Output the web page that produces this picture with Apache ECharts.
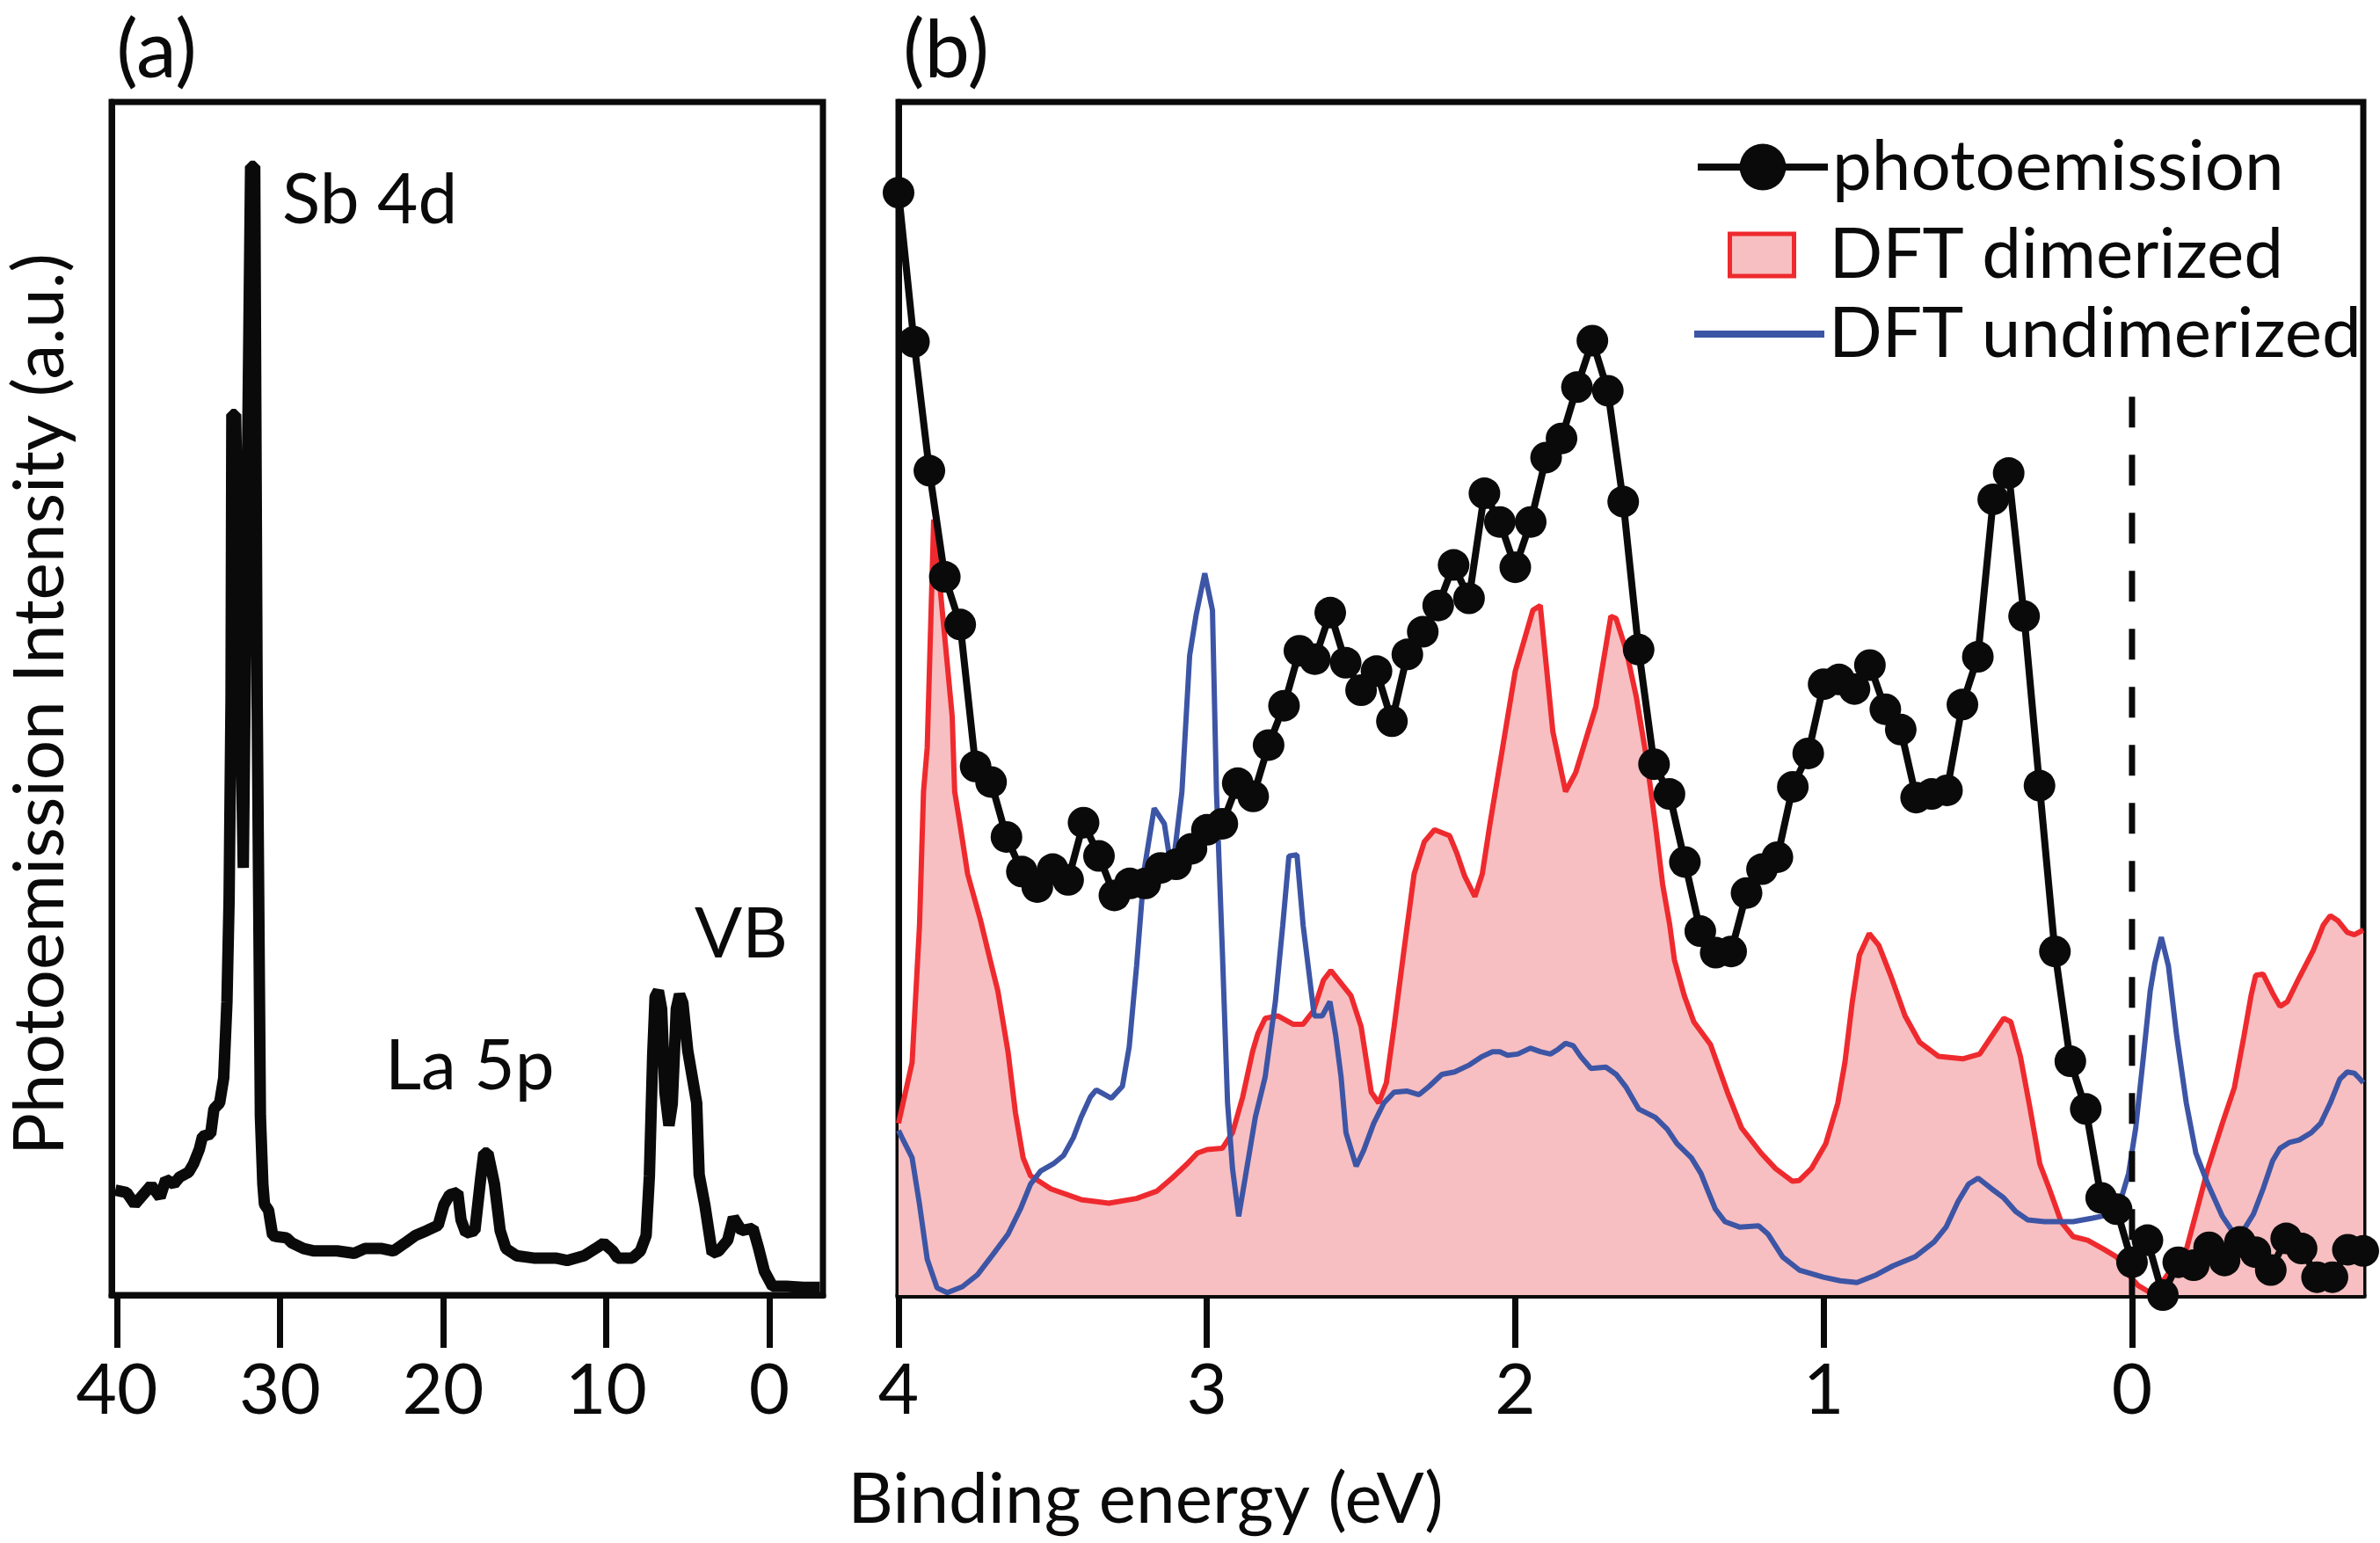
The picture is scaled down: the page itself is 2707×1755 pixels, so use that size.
<!DOCTYPE html>
<html>
<head>
<meta charset="utf-8">
<script src="https://cdn.jsdelivr.net/npm/echarts@6/dist/echarts.min.js"></script>
<style>
  html, body { margin: 0; padding: 0; background: #fff; }
  #chart { width: 2707px; height: 1755px; }
</style>
</head>
<body>
<div id="chart"></div>
<script>
// panel (a): wide survey spectrum
const surveyE = [40.1, 39.4, 38.9, 38.4, 37.9, 37.35, 37.0, 36.5, 36.15, 35.6,
  35.3, 34.95, 34.75, 34.25, 34.05, 33.7, 33.45, 33.25, 33.12, 33.0,
  32.95, 32.72, 32.25, 31.8, 31.55, 31.4, 31.2, 31.05, 30.95, 30.7,
  30.45, 30.2, 29.6, 29.25, 28.55, 27.9, 26.5, 25.45, 24.8, 23.75,
  23.05, 22.35, 21.7, 21.0, 20.3, 19.95, 19.6, 19.1, 18.9, 18.6,
  18.05, 17.7, 17.5, 17.25, 16.85, 16.5, 16.15, 15.5, 14.45, 13.1,
  12.4, 11.35, 10.65, 10.15, 9.6, 9.3, 8.4, 7.9, 7.55, 7.35,
  7.15, 7.0, 6.8, 6.6, 6.4, 6.15, 5.95, 5.7, 5.5, 5.3,
  5.0, 4.45, 4.3, 3.95, 3.5, 3.1, 2.55, 2.2, 1.7, 1.0,
  0.65, 0.3, -0.2, -1.05, -2.1, -3.1];
const surveyI = [8.8, 8.6, 7.6, 8.4, 9.2, 8.2, 9.7, 9.3, 9.9, 10.3,
  11.0, 12.2, 13.3, 13.5, 15.6, 16.1, 18.2, 24.6, 33.1, 50,
  73.8, 73.8, 35.8, 94.6, 94.6, 50, 15, 9.3, 7.6, 7.1,
  5.0, 4.9, 4.8, 4.35, 3.9, 3.7, 3.7, 3.5, 3.9, 3.9,
  3.7, 4.35, 5.0, 5.4, 5.85, 7.55, 8.4, 8.6, 6.3, 5.2,
  5.4, 9.7, 11.9, 11.9, 9.3, 5.4, 3.9, 3.3, 3.1, 3.1,
  2.9, 3.3, 3.9, 4.35, 3.7, 3.1, 3.1, 3.7, 5.0, 10,
  20, 25.0, 25.5, 24, 17, 14.2, 16, 24, 25.2, 24.5,
  20.5, 16.1, 10.1, 7.55, 3.5, 3.7, 4.6, 6.5, 5.4, 5.6,
  3.9, 2.0, 0.73, 0.73, 0.65, 0.65];

// panel (b): photoemission points
const peE = [4.00, 3.95, 3.90, 3.85, 3.80, 3.75, 3.70, 3.65, 3.60, 3.55,
  3.50, 3.45, 3.40, 3.35, 3.30, 3.25, 3.20, 3.15, 3.10, 3.05,
  3.00, 2.95, 2.90, 2.85, 2.80, 2.75, 2.70, 2.65, 2.60, 2.55,
  2.50, 2.45, 2.40, 2.35, 2.30, 2.25, 2.20, 2.15, 2.10, 2.05,
  2.00, 1.95, 1.90, 1.85, 1.80, 1.75, 1.70, 1.65, 1.60, 1.55,
  1.50, 1.45, 1.40, 1.35, 1.30, 1.25, 1.20, 1.15, 1.10, 1.05,
  1.00, 0.95, 0.90, 0.85, 0.80, 0.75, 0.70, 0.65, 0.60, 0.55,
  0.50, 0.45, 0.40, 0.35, 0.30, 0.25, 0.20, 0.15, 0.10, 0.05,
  0.00, -0.05, -0.10, -0.15, -0.20, -0.25, -0.30, -0.35, -0.40, -0.45,
  -0.50, -0.55, -0.60, -0.65, -0.70, -0.75];
const peI = [92.4, 79.9, 69.1, 60.2, 56.2, 44.3, 43.0, 38.4, 35.5, 34.2,
  35.7, 34.8, 39.6, 36.8, 33.5, 34.5, 34.5, 35.8, 36.1, 37.4,
  39.0, 39.5, 42.9, 41.8, 46.1, 49.4, 54.0, 53.3, 57.2, 53.0,
  50.7, 52.3, 48.1, 53.7, 55.6, 57.8, 61.2, 58.4, 67.2, 64.8,
  61.0, 64.8, 70.2, 71.8, 76.1, 80.0, 75.8, 66.5, 54.1, 44.5,
  42.0, 36.3, 30.5, 28.7, 28.8, 33.7, 35.7, 36.7, 42.6, 45.4,
  51.2, 51.6, 50.8, 52.8, 49.1, 47.4, 41.7, 42.0, 42.3, 49.5,
  53.5, 66.7, 68.9, 56.9, 42.7, 28.8, 19.6, 15.6, 8.15, 7.2,
  2.75, 4.6, 0.0, 2.75, 2.5, 4.0, 2.9, 4.45, 3.6, 2.1,
  4.75, 3.9, 1.5, 1.5, 3.8, 3.7];

// panel (b): DFT dimerized
const dimE = [4.0, 3.956, 3.932, 3.919, 3.907, 3.886, 3.826, 3.818, 3.801, 3.776,
  3.735, 3.703, 3.678, 3.645, 3.621, 3.596, 3.572, 3.506, 3.408, 3.318,
  3.228, 3.163, 3.113, 3.064, 3.031, 2.999, 2.950, 2.917, 2.884, 2.852,
  2.835, 2.811, 2.770, 2.721, 2.688, 2.655, 2.622, 2.598, 2.533, 2.500,
  2.467, 2.443, 2.418, 2.393, 2.361, 2.328, 2.295, 2.262, 2.213, 2.189,
  2.164, 2.131, 2.107, 2.082, 2.041, 2.0, 1.943, 1.919, 1.878, 1.837,
  1.804, 1.739, 1.690, 1.673, 1.640, 1.608, 1.575, 1.546, 1.522, 1.499,
  1.484, 1.452, 1.421, 1.367, 1.312, 1.266, 1.203, 1.156, 1.102, 1.079,
  1.040, 0.993, 0.954, 0.931, 0.907, 0.884, 0.852, 0.821, 0.783, 0.736,
  0.689, 0.627, 0.549, 0.494, 0.455, 0.416, 0.393, 0.362, 0.331, 0.299,
  0.268, 0.230, 0.191, 0.144, 0.089, 0.050, 0.011, -0.020, -0.059, -0.090,
  -0.137, -0.176, -0.207, -0.246, -0.293, -0.332, -0.363, -0.386, -0.401, -0.425,
  -0.456, -0.480, -0.504, -0.542, -0.588, -0.620, -0.643, -0.667, -0.698, -0.721,
  -0.75];
const dimI = [14.4, 19.5, 31.0, 42.2, 45.9, 65.0, 48.5, 42.2, 39.5, 35.3,
  31.5, 28.1, 25.5, 20.4, 15.3, 11.5, 10.0, 8.9, 8.0, 7.7,
  8.1, 8.7, 9.8, 11.0, 11.9, 12.2, 12.3, 13.6, 16.6, 20.4,
  21.9, 23.2, 23.4, 22.7, 22.7, 23.8, 26.4, 27.2, 25.1, 22.5,
  17.0, 16.1, 17.8, 22.5, 28.9, 35.3, 38.0, 39.0, 38.5, 37.0,
  35.1, 33.4, 35.3, 39.5, 45.9, 52.3, 57.4, 57.8, 47.2, 42.2,
  43.8, 49.3, 56.9, 56.7, 54.0, 50.2, 45.1, 39.5, 34.4, 31.0,
  28.1, 25.1, 22.9, 21.0, 17.0, 14.0, 11.9, 10.6, 9.55, 9.6,
  10.6, 12.7, 16.1, 19.5, 24.6, 28.5, 30.3, 29.3, 26.8, 23.4,
  21.2, 20.0, 19.8, 20.2, 21.7, 23.2, 22.9, 20.0, 15.7, 11.0,
  8.9, 6.15, 4.9, 4.6, 3.8, 3.2, 1.7, 0.8, 0.2, 0.8,
  2.5, 3.8, 6.8, 10.6, 14.4, 17.4, 21.7, 25.1, 26.8, 26.9,
  25.3, 24.2, 24.6, 26.6, 28.9, 31.0, 31.8, 31.4, 30.4, 30.2,
  30.6];

// panel (b): DFT undimerized
const undE = [4.0, 3.989, 3.956, 3.932, 3.907, 3.875, 3.842, 3.793, 3.744, 3.694,
  3.645, 3.605, 3.572, 3.539, 3.498, 3.465, 3.433, 3.408, 3.378, 3.359,
  3.310, 3.274, 3.252, 3.228, 3.203, 3.171, 3.138, 3.113, 3.081, 3.056,
  3.035, 3.007, 2.982, 2.969, 2.950, 2.933, 2.917, 2.897, 2.876, 2.843,
  2.811, 2.778, 2.754, 2.734, 2.708, 2.688, 2.668, 2.652, 2.626, 2.601,
  2.582, 2.565, 2.549, 2.516, 2.492, 2.459, 2.426, 2.393, 2.352, 2.312,
  2.279, 2.238, 2.197, 2.148, 2.107, 2.074, 2.050, 2.025, 1.992, 1.951,
  1.919, 1.886, 1.861, 1.837, 1.812, 1.788, 1.755, 1.706, 1.673, 1.640,
  1.600, 1.546, 1.507, 1.476, 1.429, 1.398, 1.375, 1.351, 1.320, 1.273,
  1.211, 1.180, 1.133, 1.079, 1.001, 0.946, 0.892, 0.829, 0.775, 0.704,
  0.642, 0.603, 0.564, 0.530, 0.499, 0.455, 0.416, 0.377, 0.338, 0.284,
  0.191, 0.128, 0.082, 0.035, 0.011, -0.012, -0.035, -0.059, -0.074, -0.095,
  -0.118, -0.145, -0.176, -0.207, -0.246, -0.293, -0.332, -0.363, -0.394, -0.425,
  -0.456, -0.480, -0.511, -0.542, -0.581, -0.612, -0.643, -0.674, -0.698, -0.721,
  -0.736, -0.75];
const undI = [13.8, 13.2, 11.5, 7.6, 3.0, 0.6, 0.2, 0.7, 1.7, 3.4,
  5.1, 7.2, 9.3, 10.4, 11.0, 11.7, 13.2, 14.9, 16.6, 17.2,
  16.5, 17.5, 20.8, 27.6, 35.7, 40.8, 39.5, 35.3, 42.2, 53.6,
  57.0, 60.5, 57.4, 42.2, 28.9, 16.1, 10.6, 6.6, 9.8, 14.9,
  18.3, 24.6, 31.0, 36.8, 36.9, 31.0, 26.8, 23.4, 23.4, 24.6,
  21.7, 18.3, 13.6, 10.8, 12.1, 14.4, 16.1, 17.0, 17.1, 16.8,
  17.5, 18.5, 18.7, 19.3, 20.0, 20.4, 20.4, 20.1, 20.2, 20.7,
  20.4, 20.2, 20.6, 21.1, 20.9, 20.0, 19.0, 19.1, 18.5, 17.4,
  15.6, 14.9, 13.9, 12.7, 11.5, 10.2, 8.7, 7.2, 6.15, 5.7,
  5.8, 5.1, 3.2, 2.1, 1.5, 1.2, 1.05, 1.7, 2.45, 3.2,
  4.45, 5.7, 7.85, 9.3, 9.8, 8.9, 8.15, 7.0, 6.3, 6.15,
  6.15, 6.45, 6.7, 8.1, 10.2, 14.0, 19.5, 25.5, 27.8, 30.0,
  27.6, 21.7, 16.1, 11.9, 9.3, 6.6, 5.1, 5.5, 6.8, 8.9,
  11.25, 12.3, 12.8, 13.0, 13.6, 14.4, 16.1, 18.1, 18.7, 18.6,
  18.2, 17.8];

const ticksA = [0, 10, 20, 30, 40];
const ticksB = [0, 1, 2, 3, 4];
const fermiLine = [[0, 75.3], [0, 0]];

const FONT = 'Lato';
const BLACK = '#0a0a0a';
const RED = '#ee2a2e';
const PINK = '#f7bfc1';
const BLUE = '#3d55a5';
const FS = 80;

function zip(xs, ys) {
  return xs.map((x, i) => [x, ys[i]]);
}

function xAxisFor(grid, min, max, ticks) {
  return {
    gridIndex: grid, type: 'value', inverse: true, min: min, max: max,
    splitLine: {show: false},
    axisLine: {show: true, onZero: false, lineStyle: {color: BLACK, width: 7}},
    axisTick: {show: true, customValues: ticks, length: 60, lineStyle: {color: BLACK, width: 7}},
    axisLabel: {customValues: ticks, margin: 69, fontSize: FS, fontFamily: FONT, color: BLACK}
  };
}

function yAxisFor(grid) {
  return {
    gridIndex: grid, type: 'value', min: 0, max: 100,
    splitLine: {show: false},
    axisLine: {show: true, onZero: false, lineStyle: {color: BLACK, width: 7}},
    axisTick: {show: false},
    axisLabel: {show: false}
  };
}

function label(text, x, y, align, size, rot) {
  return {
    type: 'text', x: x, y: y, rotation: rot || 0,
    style: {
      text: text, fill: BLACK, font: size + 'px ' + FONT,
      align: align, textAlign: align, verticalAlign: 'middle', textVerticalAlign: 'middle'
    }
  };
}

const legendText = {fontSize: FS, fontFamily: FONT, color: BLACK};

let myChart = echarts.init(document.getElementById('chart'));
let option = {
  animation: false,
  backgroundColor: '#fff',
  grid: [
    {left: 127, top: 116, width: 809, height: 1357, show: true, borderColor: BLACK, borderWidth: 7},
    {left: 1022, top: 116, width: 1666, height: 1357, show: true, borderColor: BLACK, borderWidth: 7}
  ],
  xAxis: [xAxisFor(0, -3.29, 40.32, ticksA), xAxisFor(1, -0.75, 4, ticksB)],
  yAxis: [yAxisFor(0), yAxisFor(1)],
  legend: [
    {
      data: ['photoemission'], left: 1927, top: 150, padding: 0,
      itemWidth: 148, itemHeight: 66, selectedMode: false,
      lineStyle: {width: 8},
      textStyle: Object.assign({padding: [0, 0, 0, 0]}, legendText)
    },
    {
      data: [{name: 'DFT dimerized', icon: 'rect',
        itemStyle: {color: PINK, borderColor: RED, borderWidth: 5}}],
      left: 1965, top: 250, padding: 0,
      itemWidth: 73, itemHeight: 48, selectedMode: false,
      textStyle: Object.assign({padding: [0, 0, 0, 35]}, legendText)
    },
    {
      data: [{name: 'DFT undimerized', icon: 'rect', itemStyle: {color: BLUE, borderWidth: 0}}],
      left: 1927, top: 340, padding: 0,
      itemWidth: 148, itemHeight: 8, selectedMode: false,
      textStyle: Object.assign({padding: [0, 0, 0, 0]}, legendText)
    }
  ],
  graphic: [
    label('(a)', 178, 58, 'center', 92),
    label('(b)', 1076, 58, 'center', 92),
    label('Sb 4d', 321, 228, 'left', FS),
    label('La 5p', 438, 1213, 'left', FS),
    label('VB', 790, 1063, 'left', FS),
    label('Photoemission Intensity (a.u.)', 46, 801, 'center', FS, Math.PI / 2),
    label('Binding energy (eV)', 1303, 1706, 'center', FS)
  ],
  series: [
    {
      name: 'survey', type: 'line', xAxisIndex: 0, yAxisIndex: 0,
      data: zip(surveyE, surveyI), symbol: 'none',
      lineStyle: {color: BLACK, width: 13}, itemStyle: {color: BLACK}
    },
    {
      name: 'DFT dimerized', type: 'line', xAxisIndex: 1, yAxisIndex: 1,
      data: zip(dimE, dimI), symbol: 'none',
      lineStyle: {color: RED, width: 6}, itemStyle: {color: RED},
      areaStyle: {color: PINK, opacity: 1}
    },
    {
      name: 'DFT undimerized', type: 'line', xAxisIndex: 1, yAxisIndex: 1,
      data: zip(undE, undI), symbol: 'none',
      lineStyle: {color: BLUE, width: 6}, itemStyle: {color: BLUE}
    },
    {
      name: 'EF', type: 'line', xAxisIndex: 1, yAxisIndex: 1,
      data: fermiLine, symbol: 'none', silent: true,
      lineStyle: {color: BLACK, width: 7, type: [35, 31]}
    },
    {
      name: 'photoemission', type: 'line', xAxisIndex: 1, yAxisIndex: 1,
      data: zip(peE, peI), symbol: 'circle', symbolSize: 36,
      lineStyle: {color: BLACK, width: 8}, itemStyle: {color: BLACK}
    }
  ]
};
myChart.setOption(option);
</script>
</body>
</html>
